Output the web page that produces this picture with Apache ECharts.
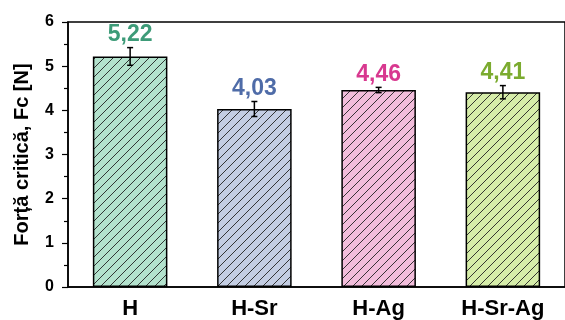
<!DOCTYPE html>
<html><head><meta charset="utf-8">
<script src="https://cdn.jsdelivr.net/npm/echarts@6/dist/echarts.min.js"></script>
<style>html,body{margin:0;padding:0;background:#fff}#c{width:565px;height:320px}</style>
</head><body><div id="c"></div>
<script>
var categories = ['H', 'H-Sr', 'H-Ag', 'H-Sr-Ag'];
var values = [5.22, 4.03, 4.46, 4.41];
var errors = [0.20, 0.17, 0.06, 0.15];
var valueLabels = ['5,22', '4,03', '4,46', '4,41'];
var fillColors = ['#b3e2cd', '#c3cde3', '#f2bddb', '#d6eda9'];
var labelColors = ['#3d9b78', '#4f6ca8', '#d8388f', '#7bab2f'];
var yTicks = [0, 1, 2, 3, 4, 5, 6];

function hatch(bg) {
  var s = 9;
  var c = document.createElement('canvas');
  c.width = s; c.height = s;
  var g = c.getContext('2d');
  g.fillStyle = bg; g.fillRect(0, 0, s, s);
  g.strokeStyle = '#222'; g.lineWidth = 0.9;
  g.beginPath();
  g.moveTo(-1, s + 1); g.lineTo(s + 1, -1);
  g.moveTo(-1, 1); g.lineTo(1, -1);
  g.moveTo(s - 1, s + 1); g.lineTo(s + 1, s - 1);
  g.stroke();
  return { image: c, repeat: 'repeat' };
}

var chart = echarts.init(document.getElementById('c'), null, { renderer: 'canvas' });
var barData = values.map(function (v, i) {
  return { value: v, itemStyle: { color: hatch(fillColors[i]) } };
});
var errData = values.map(function (v, i) { return [i, v, errors[i]]; });
var font = 'Liberation Sans, Arial, sans-serif';

chart.setOption({
  animation: false,
  grid: { left: 68, right: -10, top: 22, bottom: 32, show: true, borderColor: '#000', borderWidth: 1.5 },
  xAxis: [{
    type: 'category', data: categories,
    axisLine: { lineStyle: { color: '#000', width: 1.5 } },
    axisTick: { alignWithLabel: true, length: 6, lineStyle: { color: '#000', width: 1.2 } },
    axisLabel: { color: '#000', fontFamily: font, fontWeight: 'bold', fontSize: 22, margin: 11 }
  }, {
    type: 'category', data: categories, position: 'bottom',
    axisLine: { show: false },
    axisTick: { length: 4, lineStyle: { color: '#000', width: 1.2 } },
    axisLabel: { show: false }
  }],
  yAxis: {
    type: 'value', min: yTicks[0], max: yTicks[yTicks.length - 1], interval: 1,
    name: 'Forță critică, Fc [N]', nameLocation: 'middle', nameGap: 36,
    nameTextStyle: { color: '#000', fontFamily: font, fontWeight: 'bold', fontSize: 20 },
    axisLine: { show: true, lineStyle: { color: '#000', width: 1.5 } },
    axisTick: { show: true, length: 6, lineStyle: { color: '#000', width: 1.2 } },
    minorTick: { show: true, splitNumber: 2, length: 4, lineStyle: { color: '#000', width: 1.2 } },
    splitLine: { show: false },
    axisLabel: { color: '#000', fontFamily: font, fontWeight: 'bold', fontSize: 16, margin: 14 }
  },
  series: [{
    type: 'bar', data: barData, barWidth: '60%',
    itemStyle: { borderColor: '#000', borderWidth: 1.5 }
  }, {
    type: 'custom', data: errData, z: 10,
    renderItem: function (params, api) {
      var i = api.value(0), v = api.value(1), e = api.value(2);
      var top = api.coord([i, v + e]);
      var bot = api.coord([i, v - e]);
      var x = top[0], hw = 3;
      return {
        type: 'group', children: [
          { type: 'line', shape: { x1: x, y1: top[1], x2: x, y2: bot[1] }, style: { stroke: '#000', lineWidth: 1.5 } },
          { type: 'line', shape: { x1: x - hw, y1: top[1], x2: x + hw, y2: top[1] }, style: { stroke: '#000', lineWidth: 1.5 } },
          { type: 'line', shape: { x1: x - hw, y1: bot[1], x2: x + hw, y2: bot[1] }, style: { stroke: '#000', lineWidth: 1.5 } },
          { type: 'text', x: x, y: top[1] - 1, style: { text: valueLabels[i], fill: labelColors[i], font: 'bold 23px ' + font, align: 'center', verticalAlign: 'bottom' } }
        ]
      };
    }
  }]
});
</script></body></html>
